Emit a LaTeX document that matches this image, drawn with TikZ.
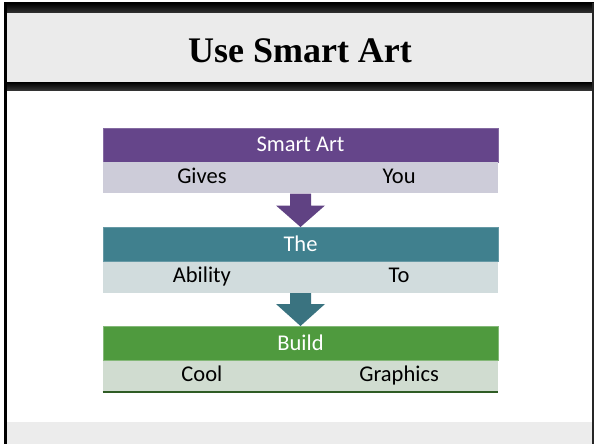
\documentclass[tikz,border=0pt]{standalone}
\usepackage{fontspec}
\setmainfont{Carlito}
\newfontfamily\titlefont{Liberation Serif}
\usetikzlibrary{calc}

\definecolor{artpurple}{HTML}{65458A}
\definecolor{artteal}{HTML}{40808E}
\definecolor{artgreen}{HTML}{4F9A3E}
\definecolor{rowpurple}{HTML}{CDCCD9}
\definecolor{rowteal}{HTML}{D1DCDD}
\definecolor{rowgreen}{HTML}{D0DCD0}
\definecolor{bandgray}{HTML}{EBEBEB}

\begin{document}
\begin{tikzpicture}[
    x=1pt, y=-1pt,
    every node/.style={inner sep=0pt, font=\fontsize{22.5}{26}\selectfont},
    header/.style={rectangle, minimum width=395pt, minimum height=34pt, text height=14pt, text depth=0pt, text=white, anchor=north},
    cell/.style={rectangle, minimum width=198pt, minimum height=31pt, text height=14pt, text depth=3pt, text=black},
    bar/.style={top color=black, bottom color=black!80}
]
\useasboundingbox (0,0) rectangle (594,444);

% Frame: title band, dark bars, side lines, footer band
\fill[bandgray] (4,13) rectangle (594,82);
\fill[bar] (4,3) rectangle (594,13);
\fill[bar] (4,82) rectangle (594,90);
\fill[bandgray!95!white] (7,422) rectangle (592,444);
\fill[black] (4,3) rectangle (7,444);
\fill[black!85] (592,3) rectangle (593.5,444);
\node[font=\titlefont\bfseries\fontsize{36}{40}\selectfont, anchor=base] (title) at (300,63) {Use Smart Art};

% First block
\node[header, fill=artpurple, draw=artpurple!80!white, line width=0.6pt] (smartart) at (300.5,127.5) {Smart Art};
\node[cell, fill=rowpurple, anchor=north west] (gives) at (smartart.south west) {Gives};
\node[cell, fill=rowpurple, anchor=north east] (you) at (smartart.south east) {You};

% Second block
\node[header, fill=artteal, draw=artteal!80!white, line width=0.6pt] (the) at (300.5,227) {The};
\node[cell, fill=rowteal, anchor=north west] (ability) at (the.south west) {Ability};
\node[cell, fill=rowteal, anchor=north east] (to) at (the.south east) {To};

% Third block
\node[header, fill=artgreen, draw=artgreen!70!white, line width=0.6pt] (build) at (300.5,326) {Build};
\node[cell, fill=rowgreen, anchor=north west] (cool) at (build.south west) {Cool};
\node[cell, fill=rowgreen, anchor=north east] (graphics) at (build.south east) {Graphics};
\draw[artgreen!60!black, line width=1.2pt] (cool.south west) -- (graphics.south east);

% Block arrows between the rows
\fill[artpurple!95!black] ($(smartart.south |- gives.south)+(-10.5,0)$) -- ($(smartart.south |- gives.south)+(10.5,0)$)
    -- ($(smartart.south |- gives.south)+(10.5,12)$) -- ($(smartart.south |- gives.south)+(24.5,12)$) -- (the.north)
    -- ($(smartart.south |- gives.south)+(-24.5,12)$) -- ($(smartart.south |- gives.south)+(-10.5,12)$) -- cycle;
\fill[artteal!90!black] ($(the.south |- ability.south)+(-10.5,0)$) -- ($(the.south |- ability.south)+(10.5,0)$)
    -- ($(the.south |- ability.south)+(10.5,11)$) -- ($(the.south |- ability.south)+(24.5,11)$) -- (build.north)
    -- ($(the.south |- ability.south)+(-24.5,11)$) -- ($(the.south |- ability.south)+(-10.5,11)$) -- cycle;

\end{tikzpicture}
\end{document}
